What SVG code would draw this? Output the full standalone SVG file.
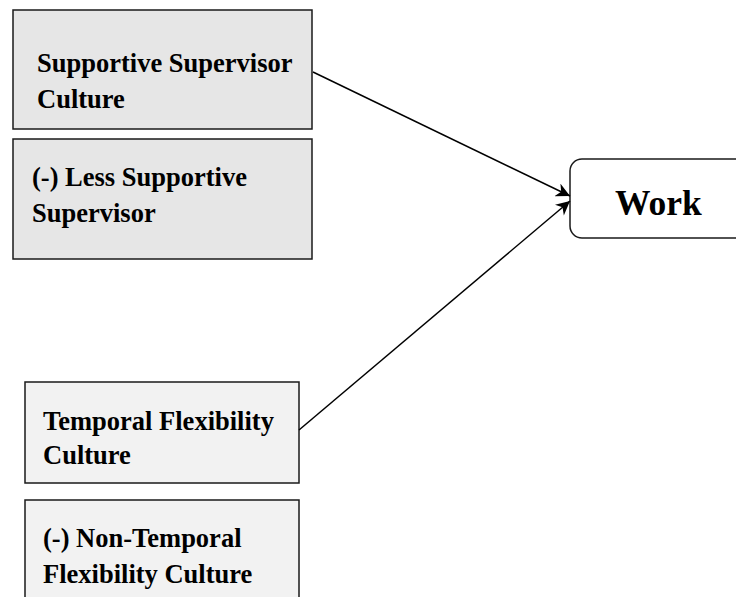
<svg xmlns="http://www.w3.org/2000/svg" width="736" height="597" viewBox="0 0 736 597">
<style>
.box{stroke:#1a1a1a;stroke-width:1.5}
.dark{fill:#e6e6e6}
.light{fill:#f2f2f2}
.t{font-family:"Liberation Serif","Times New Roman",serif;font-weight:bold;font-size:26.5px;fill:#000}
.edge{stroke:#000;stroke-width:1.5;fill:none}
</style>
<defs>
<marker id="arr" viewBox="0 0 10 10" refX="10" refY="5" markerWidth="15" markerHeight="14" markerUnits="userSpaceOnUse" orient="auto">
<path d="M0,0 L10,5 L0,10 L3,5 z" fill="#000"/>
</marker>
</defs>
<g id="n1">
<rect class="box dark" x="13" y="10" width="299" height="119"/>
<text class="t" x="37" y="72">Supportive Supervisor</text>
<text class="t" x="37" y="108">Culture</text>
</g>
<g id="n2">
<rect class="box dark" x="13" y="139" width="299" height="120"/>
<text class="t" x="32" y="186">(-) Less Supportive</text>
<text class="t" x="32" y="222">Supervisor</text>
</g>
<g id="n3">
<rect class="box light" x="25" y="382" width="274" height="101"/>
<text class="t" x="43" y="430">Temporal Flexibility</text>
<text class="t" x="43" y="464">Culture</text>
</g>
<g id="n4">
<rect class="box light" x="25" y="500" width="274" height="110"/>
<text class="t" x="43" y="547">(-) Non-Temporal</text>
<text class="t" x="43" y="583">Flexibility Culture</text>
</g>
<g id="n5">
<rect class="box" fill="#fff" x="570" y="159" width="190" height="79" rx="12" ry="12"/>
<text class="t" x="615" y="215" style="font-size:35.5px">Work</text>
</g>
<g id="edges">
<line class="edge" x1="313" y1="72" x2="570" y2="196" marker-end="url(#arr)"/>
<line class="edge" x1="299" y1="430" x2="570" y2="201" marker-end="url(#arr)"/>
</g>
</svg>
